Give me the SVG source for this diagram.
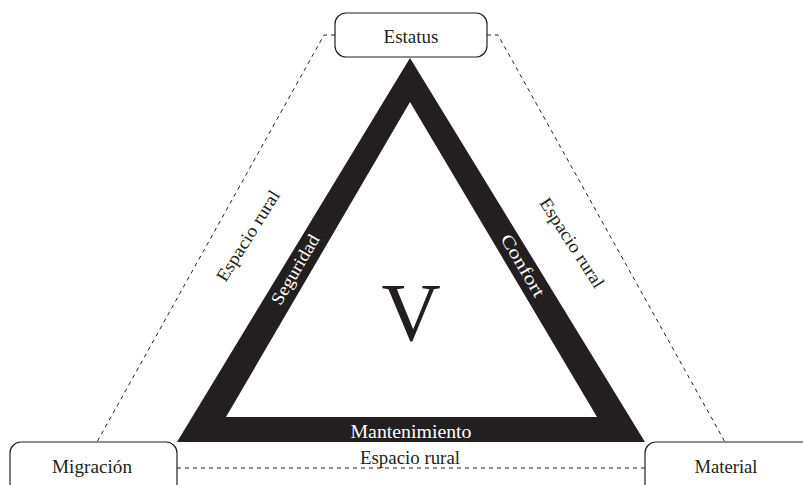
<svg xmlns="http://www.w3.org/2000/svg" width="803" height="485" viewBox="0 0 803 485">
<style>
.box{fill:#fff;stroke:#231f20;stroke-width:1.2}
.dash{fill:none;stroke:#231f20;stroke-width:1;stroke-dasharray:4 4}
.t{font-family:"Liberation Serif","Times New Roman",serif;fill:#231f20;text-anchor:middle}
.w{font-family:"Liberation Serif","Times New Roman",serif;fill:#fff;text-anchor:middle}
</style>
<rect width="803" height="485" fill="#fff"/>
<g id="connectors">
<polyline class="dash" points="335,35 324,35 97,442"/>
<polyline class="dash" points="487,35 498,35 725,442"/>
<line class="dash" x1="177" y1="468" x2="645" y2="468"/>
<text class="t" font-size="18" textLength="104" lengthAdjust="spacingAndGlyphs" transform="translate(253,239) rotate(-58)" x="0" y="0">Espacio rural</text>
<text class="t" font-size="18" textLength="104" lengthAdjust="spacingAndGlyphs" transform="translate(567,246) rotate(57)" x="0" y="0">Espacio rural</text>
<text class="t" font-size="18" textLength="100" lengthAdjust="spacingAndGlyphs" x="410" y="464">Espacio rural</text>
</g>
<g id="triangle">
<path d="M410,58 L645,442 L177,442 Z M410,102 L226,417 L597,417 Z" fill="#231f20" fill-rule="evenodd"/>
<text class="w" font-size="18" textLength="121" lengthAdjust="spacingAndGlyphs" x="411" y="438">Mantenimiento</text>
<text class="w" font-size="18" textLength="78" lengthAdjust="spacingAndGlyphs" transform="translate(296,270) rotate(-59.5)" x="0" y="5">Seguridad</text>
<text class="w" font-size="18" textLength="70" lengthAdjust="spacingAndGlyphs" transform="translate(522,266) rotate(59.5)" x="0" y="5">Confort</text>
<text class="t" font-size="82" x="411" y="340">V</text>
</g>
<g id="estatus">
<rect class="box" x="335" y="13" width="152" height="44" rx="11"/>
<text class="t" font-size="18" textLength="55" lengthAdjust="spacingAndGlyphs" x="411" y="43">Estatus</text>
</g>
<g id="migracion">
<rect class="box" x="10" y="442" width="167" height="56" rx="11"/>
<text class="t" font-size="18" textLength="80" lengthAdjust="spacingAndGlyphs" x="92" y="473">Migración</text>
</g>
<g id="material">
<rect class="box" x="645" y="442" width="170" height="56" rx="11"/>
<text class="t" font-size="18" textLength="63" lengthAdjust="spacingAndGlyphs" x="726" y="473">Material</text>
</g>
</svg>
